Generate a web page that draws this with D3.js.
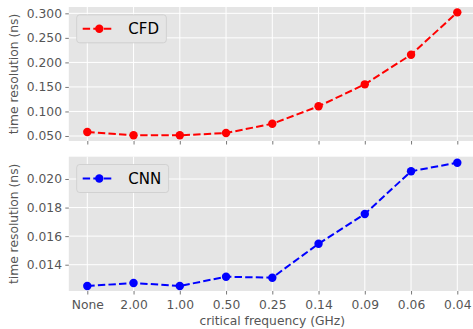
<!DOCTYPE html>
<html><head><meta charset="utf-8">
<script src="https://cdn.jsdelivr.net/npm/d3@7"></script>
<style>body{margin:0;background:#fff}svg{display:block;font-family:"DejaVu Sans",sans-serif}</style>
</head><body><svg id="c" width="473" height="329"></svg>
<script>
const categories = ["None","2.00","1.00","0.50","0.25","0.14","0.09","0.06","0.04"];
const cfdValues = [0.058,0.0514,0.0514,0.056,0.075,0.1105,0.1553,0.2157,0.302];
const cnnValues = [0.01251,0.01272,0.01251,0.01316,0.01309,0.01547,0.01755,0.02054,0.02114];
const cfdTicks = [0.05,0.10,0.15,0.20,0.25,0.30];
const cnnTicks = [0.014,0.016,0.018,0.020];

const FS = "12.3px";
const svg = d3.select("#c");
const x = d3.scaleLinear().domain([-0.4, 8.4]).range([68.8, 475.8]);

function panel(top, bottom, domain, ticks, vals, color, name, showX){
  const y = d3.scaleLinear().domain(domain).range([bottom, top]);
  const g = svg.append("g");
  g.append("rect").attr("x",68.8).attr("y",top).attr("width",475.8-68.8).attr("height",bottom-top).attr("fill","#e5e5e5");
  g.selectAll(".gx").data(categories).join("line")
    .attr("x1",(d,i)=>x(i)).attr("x2",(d,i)=>x(i)).attr("y1",top).attr("y2",bottom)
    .attr("stroke","#fff").attr("stroke-width",1);
  g.selectAll(".gy").data(ticks).join("line")
    .attr("x1",68.8).attr("x2",475.8).attr("y1",d=>y(d)).attr("y2",d=>y(d))
    .attr("stroke","#fff").attr("stroke-width",1);
  const ya = d3.axisLeft(y).tickValues(ticks).tickFormat(d3.format(".3f")).tickSize(3.5).tickPadding(3.3);
  const yg = g.append("g").attr("transform","translate(68.8,0)").call(ya);
  yg.select(".domain").remove();
  yg.selectAll(".tick line").attr("stroke","#555").attr("stroke-width",0.8);
  yg.selectAll(".tick text").attr("fill","#555").style("font-size",FS).style("font-family","DejaVu Sans");
  const xa = d3.axisBottom(x).tickValues(d3.range(categories.length)).tickFormat(i=>showX?categories[i]:"").tickSize(3.5).tickPadding(6);
  const xg = g.append("g").attr("transform",`translate(0,${bottom})`).call(xa);
  xg.select(".domain").remove();
  xg.selectAll(".tick line").attr("stroke","#555").attr("stroke-width",0.8);
  xg.selectAll(".tick text").attr("fill","#555").style("font-size",FS).style("font-family","DejaVu Sans");
  const line = d3.line().x((d,i)=>x(i)).y(d=>y(d));
  g.append("path").datum(vals).attr("d",line).attr("fill","none").attr("stroke",color)
    .attr("stroke-width",2).attr("stroke-dasharray","7.4,3.2");
  g.selectAll(".pt").data(vals).join("circle").attr("cx",(d,i)=>x(i)).attr("cy",d=>y(d)).attr("r",4.2).attr("fill",color);
  g.append("text").attr("transform",`translate(18,${(top+bottom)/2}) rotate(-90)`).attr("text-anchor","middle")
    .attr("fill","#555").style("font-size",FS).text("time resolution (ns)");
  const lg = g.append("g");
  const lx = 76.7, ly = top + 7.8;
  const box = lg.append("rect").attr("x",lx).attr("y",ly).attr("height",28).attr("rx",3)
    .attr("fill","#e5e5e5").attr("stroke","#cccccc").attr("stroke-width",0.8);
  lg.append("line").attr("x1",lx+6).attr("x2",lx+36.6).attr("y1",ly+14).attr("y2",ly+14)
    .attr("stroke",color).attr("stroke-width",2).attr("stroke-dasharray","7.4,3.2");
  lg.append("circle").attr("cx",lx+22.6).attr("cy",ly+14).attr("r",4.2).attr("fill",color);
  const t = lg.append("text").attr("x",lx+51.6).attr("y",ly+19.3).attr("fill","#000").style("font-size","15px").text(name);
  box.attr("width", 51.6 + t.node().getComputedTextLength() + 7.4);
  return y;
}

panel(7, 141, [0.0398, 0.3129], cfdTicks, cfdValues, "#ff0000", "CFD", false);
panel(156.7, 291, [0.01216, 0.02156], cnnTicks, cnnValues, "#0000ff", "CNN", true);

svg.append("text").attr("x",272.3).attr("y",324.5).attr("text-anchor","middle").attr("fill","#555")
  .style("font-size",FS).text("critical frequency (GHz)");
</script></body></html>
